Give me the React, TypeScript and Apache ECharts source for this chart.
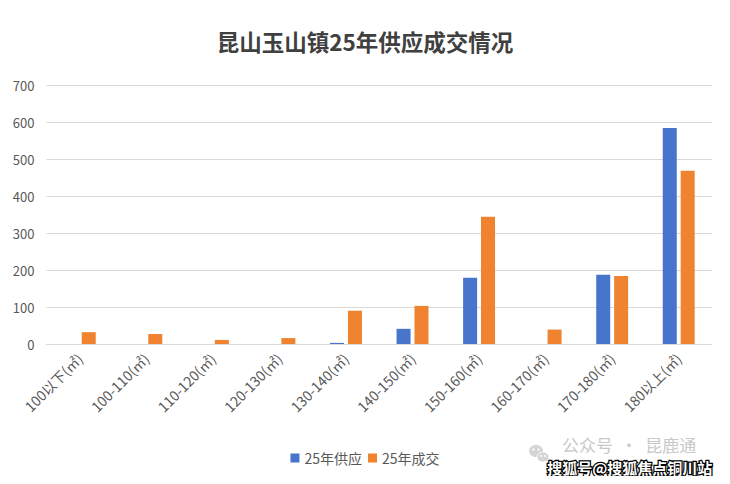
import React, { useEffect, useRef } from "react";
import * as echarts from "echarts";

const categories = [
  "100以下(㎡)",
  "100-110(㎡)",
  "110-120(㎡)",
  "120-130(㎡)",
  "130-140(㎡)",
  "140-150(㎡)",
  "150-160(㎡)",
  "160-170(㎡)",
  "170-180(㎡)",
  "180以上(㎡)",
];
const supplyValues = [0, 0, 0, 0, 3, 41, 179, 0, 187, 584];
const dealValues = [32, 27, 11, 16, 90, 103, 344, 39, 184, 468];
const seriesNames = ["25年供应", "25年成交"];
const titleText = "昆山玉山镇25年供应成交情况";
const watermark1 = "公众号  ·  昆鹿通";
const watermark2 = "搜狐号@搜狐焦点铜川站";

const FONT = "'Noto Sans CJK SC', 'Noto Sans', sans-serif";

export default function App() {
  const ref = useRef<HTMLDivElement>(null);
  useEffect(() => {
    if (!ref.current) return;
    const chart = echarts.init(ref.current, undefined, { renderer: "svg" });
    chart.setOption({
      animation: false,
      backgroundColor: "#ffffff",
      textStyle: { fontFamily: FONT },
      title: {
        text: titleText,
        left: "center",
        top: 25,
        textStyle: {
          fontFamily: FONT,
          fontSize: 22.5,
          fontWeight: "bold",
          color: "#404040",
        },
      },
      legend: {
        bottom: 14,
        left: "center",
        itemWidth: 9,
        itemHeight: 9,
        itemGap: 6,
        icon: "rect",
        textStyle: { fontFamily: FONT, fontSize: 14, color: "#595959" },
        data: seriesNames,
      },
      grid: { left: 46.5, right: 18, top: 85, bottom: 140, containLabel: false },
      xAxis: {
        type: "category",
        data: categories,
        axisLine: { lineStyle: { color: "#d9d9d9", width: 1 } },
        axisTick: { show: false },
        axisLabel: {
          rotate: 45,
          interval: 0,
          margin: 12,
          fontFamily: FONT,
          fontSize: 14,
          color: "#595959",
        },
      },
      yAxis: {
        type: "value",
        min: 0,
        max: 700,
        interval: 100,
        axisLine: { show: false },
        axisTick: { show: false },
        splitLine: { lineStyle: { color: "#d9d9d9", width: 1 } },
        axisLabel: {
          margin: 12,
          fontFamily: FONT,
          fontSize: 13,
          color: "#595959",
        },
      },
      series: [
        {
          name: seriesNames[0],
          type: "bar",
          data: supplyValues,
          barWidth: 14,
          barGap: "28%",
          itemStyle: { color: "#4775cc" },
        },
        {
          name: seriesNames[1],
          type: "bar",
          data: dealValues,
          barWidth: 14,
          barGap: "28%",
          itemStyle: { color: "#ef8330" },
        },
      ],
      graphic: [
        {
          type: "group",
          left: 529,
          top: 445,
          children: [
            { type: "ellipse", shape: { cx: 7, cy: 7, rx: 7, ry: 6 }, style: { fill: "#d4d4d4" } },
            { type: "ellipse", shape: { cx: 14, cy: 13, rx: 6, ry: 5 }, style: { fill: "#d4d4d4", stroke: "#ffffff", lineWidth: 1 } },
            { type: "circle", shape: { cx: 4.5, cy: 5.5, r: 1.2 }, style: { fill: "#ffffff" } },
            { type: "circle", shape: { cx: 9.5, cy: 5.5, r: 1.2 }, style: { fill: "#ffffff" } },
            { type: "circle", shape: { cx: 12, cy: 12, r: 1 }, style: { fill: "#ffffff" } },
            { type: "circle", shape: { cx: 16, cy: 12, r: 1 }, style: { fill: "#ffffff" } },
          ],
        },
        {
          type: "text",
          left: 562,
          top: 436,
          style: {
            text: watermark1,
            font: `17px ${FONT}`,
            fill: "#c9c9c9",
          },
        },
        {
          type: "text",
          left: 546,
          top: 459,
          style: {
            text: watermark2,
            font: `bold 15px ${FONT}`,
            fill: "#ffffff",
            stroke: "#000000",
            lineWidth: 2.5,
          },
        },
      ],
    });
    return () => chart.dispose();
  }, []);
  return <div ref={ref} style={{ width: 730, height: 484, margin: -8 }} />;
}
